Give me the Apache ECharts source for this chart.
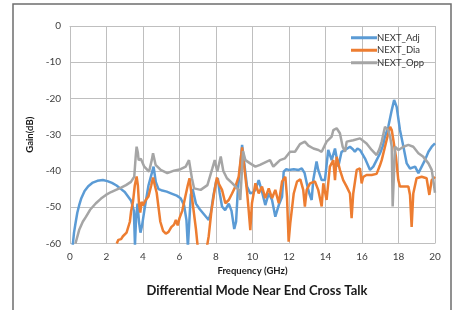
<!DOCTYPE html>
<html><head><meta charset="utf-8">
<script src="https://cdn.jsdelivr.net/npm/echarts@6/dist/echarts.min.js"></script>
<style>html,body{margin:0;padding:0;background:#fff}#c{width:459px;height:310px}</style>
</head><body><div id="c"></div>
<script>
var xTicks = [0,2,4,6,8,10,12,14,16,18,20];
var yTicks = [-60,-50,-40,-30,-20,-10,0];
var seriesNames = ['NEXT_Adj','NEXT_Dia','NEXT_Opp'];

var adjFreq = [0.15,0.22,0.3,0.4,0.5,0.62,0.8,1.0,1.25,1.5,1.8,2.05,2.3,2.55,2.8,3.0,3.15,3.25,3.35,3.42,3.5,3.56,3.62,3.7,3.78,3.86,3.95,4.1,4.3,4.45,4.58,4.7,4.85,5.0,5.3,5.6,5.85,6.06,6.25,6.38,6.46,6.56,6.62,6.72,6.9,7.1,7.35,7.6,7.72,7.85,8.0,8.1,8.2,8.33,8.5,8.7,8.85,9.0,9.1,9.2,9.3,9.43,9.55,9.7,9.88,10.05,10.16,10.34,10.52,10.7,10.89,11.07,11.25,11.44,11.62,11.71,11.85,11.98,12.26,12.53,12.7,12.85,13.0,13.1,13.24,13.33,13.51,13.6,13.79,13.97,14.15,14.34,14.52,14.7,14.88,15.07,15.34,15.5,15.61,15.75,15.89,16.16,16.44,16.62,16.8,16.99,17.15,17.26,17.44,17.63,17.76,17.9,18.08,18.27,18.45,18.63,18.91,19.09,19.27,19.45,19.64,19.82,20.0];
var adjGain = [-60.5,-57,-54.5,-51.5,-49.5,-47.5,-45.5,-44.2,-43.2,-42.7,-42.5,-42.8,-43.3,-44,-45,-45.8,-46.8,-47.3,-48.2,-48.6,-51,-60.5,-53,-49,-54,-57,-55,-50,-44,-41.2,-38.8,-43,-45,-45.3,-45.7,-46.3,-46.8,-47.5,-49.4,-53.5,-61,-61,-46.5,-45,-49,-50.5,-52,-53.5,-51.5,-47,-43,-42,-46,-49.8,-50.8,-49,-51,-56,-54,-45,-40,-32.8,-37.9,-44.3,-46.2,-45.8,-45.2,-42.5,-45.7,-49.4,-46.2,-48,-52.6,-49.4,-47.1,-40.2,-39.5,-39.7,-39.5,-39.7,-39.3,-40.5,-44,-46,-48,-42.5,-37.4,-39.7,-42.5,-42.5,-34.2,-37,-33.8,-38.8,-34.7,-34.2,-33.3,-34,-34.7,-33.8,-34.2,-36.5,-39.7,-38.8,-37,-35.1,-33,-30.5,-27.8,-23.2,-20.4,-22.3,-28.7,-33.3,-37.9,-39.3,-38.8,-40.6,-38.8,-37,-34.7,-33.3,-32.4];

var diaFreq = [2.56,2.65,2.8,2.9,3.0,3.1,3.2,3.28,3.35,3.45,3.55,3.65,3.72,3.78,3.85,3.92,4.0,4.15,4.3,4.45,4.55,4.65,4.75,4.85,4.95,5.1,5.25,5.4,5.55,5.7,5.8,5.9,6.0,6.15,6.3,6.45,6.55,6.65,6.75,6.9,7.0,7.5,7.6,7.75,7.9,8.05,8.15,8.33,8.51,8.7,8.88,9.06,9.24,9.43,9.61,9.7,9.79,9.88,9.97,10.16,10.34,10.52,10.7,10.89,11.07,11.25,11.44,11.62,11.8,11.89,11.98,12.07,12.26,12.44,12.62,12.78,12.87,12.97,13.15,13.42,13.6,13.79,13.88,14.06,14.24,14.43,14.52,14.61,14.79,14.97,15.16,15.34,15.43,15.52,15.71,15.89,15.98,16.07,16.25,16.53,16.8,16.98,17.08,17.26,17.44,17.54,17.63,17.72,17.86,17.99,18.08,18.27,18.54,18.63,18.72,18.81,18.99,19.27,19.54,19.69,19.82,20.0];
var diaGain = [-60,-59,-58.8,-58,-57.8,-57,-56.5,-54,-51,-48.5,-44,-41.5,-44,-49,-51.5,-48.5,-49.5,-48,-47,-44,-41.8,-44,-46,-50,-54,-56.5,-57.3,-56.8,-55.5,-54.8,-53.5,-55,-53,-51,-47.5,-44,-42,-46,-50,-56,-61,-61,-58,-51,-46,-41.8,-43.5,-45.2,-48.9,-48,-46.2,-44.3,-41.6,-33.5,-41.6,-45.7,-50.8,-56.3,-48.9,-43.4,-46.2,-44.3,-47.5,-44.8,-47.5,-45.2,-48.9,-42.9,-41.6,-47.1,-59.5,-54.4,-46.2,-42.9,-42.3,-45.2,-49.8,-45.2,-43.4,-42.9,-45.2,-49.8,-43.4,-48,-38.8,-37,-42.5,-36.1,-39.7,-42.5,-44.3,-46.2,-53,-46.2,-39.7,-39.3,-43.4,-41.6,-41.1,-41.1,-40.8,-38.5,-37,-33.3,-29.6,-27.8,-28.7,-31.5,-36.1,-42.5,-44.3,-44.3,-44.3,-46.6,-55.4,-46.2,-42,-41.6,-42,-46.6,-42.5,-41.6];

var oppFreq = [0.3,0.5,0.7,0.88,1.1,1.42,1.7,1.97,2.25,2.52,2.8,3.07,3.34,3.52,3.6,3.65,3.72,3.76,3.88,4.07,4.33,4.48,4.55,4.69,4.97,5.33,5.7,6.06,6.34,6.52,6.58,6.68,6.8,7.16,7.53,7.8,7.93,8.07,8.26,8.4,8.6,8.9,9.24,9.33,9.42,9.48,9.61,9.87,10.16,10.41,10.78,10.96,11.14,11.3,11.51,11.78,12.06,12.33,12.6,12.87,13.06,13.34,13.61,13.79,14.06,14.34,14.43,14.61,14.79,14.94,15.07,15.16,15.52,15.89,16.25,16.53,16.8,16.95,17.08,17.26,17.44,17.54,17.63,17.68,17.76,17.81,18.0,18.27,18.54,18.81,19.09,19.36,19.64,19.82,19.92,20.0];
var oppGain = [-60,-56.3,-54,-52.6,-50.7,-48.9,-47.6,-46.6,-45.8,-45.2,-44.6,-43.9,-43,-41.6,-36,-33.3,-35,-37,-36.6,-38.8,-40.2,-37,-35.1,-38.3,-39.7,-40.6,-39.9,-39.5,-38.8,-37,-36.5,-42,-44.8,-45.2,-43.9,-39.3,-37,-40.2,-36,-40,-42,-43.4,-45.2,-48,-40,-34.5,-37,-37.9,-38.8,-38.3,-37.4,-37,-38.8,-38,-37,-36.5,-34.7,-34.7,-32.6,-31.9,-33,-33.8,-34.2,-34.7,-31.9,-30.5,-28.7,-28.2,-29.6,-33.3,-34.7,-31.9,-31.5,-31,-32.4,-34.2,-35.6,-34,-31.9,-27.8,-28.7,-30.5,-33.3,-49.8,-49.8,-33.3,-34.2,-33.3,-32.8,-33.3,-35.1,-36.1,-37.9,-39.7,-43,-46];

function zip(a,b){return a.map(function(v,i){return [v,b[i]];});}
var colors = ['#5b9bd5','#ed7d31','#a5a5a5'];
var datasets = [zip(adjFreq,adjGain), zip(diaFreq,diaGain), zip(oppFreq,oppGain)];
var font = 'Lato, "Liberation Sans", sans-serif';

var chart = echarts.init(document.getElementById('c'), null, {renderer:'canvas'});
chart.setOption({
  animation:false,
  backgroundColor:'#fff',
  color:colors,
  graphic:[{type:'rect', shape:{x:13,y:4,width:438,height:330}, style:{fill:'none', stroke:'#6e6e6e', lineWidth:1.5}, silent:true}],
  title:{text:'Differential Mode Near End Cross Talk', left:252, top:279, textAlign:'center',
    textStyle:{fontFamily:font, fontSize:13, fontWeight:'bold', color:'#1a1a1a'}},
  legend:{orient:'vertical', left:346, top:27, itemWidth:26, itemHeight:3, itemGap:1, icon:'rect',
    textStyle:{fontFamily:font, fontSize:9.5, lineHeight:11.5, color:'#333333', padding:[0,0,0,-5]},
    data:seriesNames},
  grid:{left:70, right:24, top:26, bottom:66.5, containLabel:false},
  xAxis:{type:'value', min:xTicks[0], max:xTicks[xTicks.length-1], interval:2,
    name:'Frequency (GHz)', nameLocation:'middle', nameGap:21,
    nameTextStyle:{fontFamily:font, fontSize:9.5, fontWeight:'bold', color:'#1a1a1a'},
    axisLine:{show:true, lineStyle:{color:'#bfbfbf', width:1}}, axisTick:{show:false},
    axisLabel:{fontFamily:font, fontSize:10, color:'#404040', margin:8},
    splitLine:{show:true, lineStyle:{color:'#bfbfbf', width:1}}},
  yAxis:{type:'value', min:yTicks[0], max:yTicks[yTicks.length-1], interval:10,
    name:'Gain(dB)', nameLocation:'middle', nameGap:28, nameRotate:90,
    nameTextStyle:{fontFamily:font, fontSize:9.5, fontWeight:'bold', color:'#1a1a1a'},
    axisLine:{show:false}, axisTick:{show:false},
    axisLabel:{fontFamily:font, fontSize:10, color:'#404040', margin:9},
    splitLine:{show:true, lineStyle:{color:'#bfbfbf', width:1}}},
  series: seriesNames.map(function(n,i){
    return {name:n, type:'line', data:datasets[i], showSymbol:false, symbol:'none', clip:true,
      lineStyle:{width:2.5, color:colors[i]}, itemStyle:{color:colors[i]}};
  })
});
</script></body></html>
